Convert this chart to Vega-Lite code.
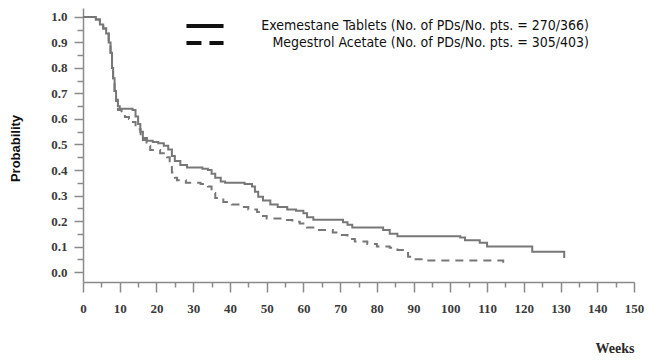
{
  "$schema": "https://vega.github.io/schema/vega-lite/v6.json",
  "width": 551,
  "height": 274,
  "autosize": "none",
  "padding": {"left": 83, "top": 8, "right": 22, "bottom": 78},
  "background": "white",
  "config": {"view": {"stroke": null}},
  "datasets": {
    "km": [
      {"group": "Exemestane Tablets (No. of PDs/No. pts. = 270/366)", "week": 0, "p": 1.0},
      {"group": "Exemestane Tablets (No. of PDs/No. pts. = 270/366)", "week": 2.5, "p": 1.0},
      {"group": "Exemestane Tablets (No. of PDs/No. pts. = 270/366)", "week": 3.5, "p": 0.99},
      {"group": "Exemestane Tablets (No. of PDs/No. pts. = 270/366)", "week": 4.6, "p": 0.97},
      {"group": "Exemestane Tablets (No. of PDs/No. pts. = 270/366)", "week": 5.5, "p": 0.955},
      {"group": "Exemestane Tablets (No. of PDs/No. pts. = 270/366)", "week": 6.3, "p": 0.935},
      {"group": "Exemestane Tablets (No. of PDs/No. pts. = 270/366)", "week": 7.0, "p": 0.9},
      {"group": "Exemestane Tablets (No. of PDs/No. pts. = 270/366)", "week": 7.5, "p": 0.86},
      {"group": "Exemestane Tablets (No. of PDs/No. pts. = 270/366)", "week": 7.9, "p": 0.8},
      {"group": "Exemestane Tablets (No. of PDs/No. pts. = 270/366)", "week": 8.2, "p": 0.76},
      {"group": "Exemestane Tablets (No. of PDs/No. pts. = 270/366)", "week": 8.6, "p": 0.71},
      {"group": "Exemestane Tablets (No. of PDs/No. pts. = 270/366)", "week": 9.0, "p": 0.675},
      {"group": "Exemestane Tablets (No. of PDs/No. pts. = 270/366)", "week": 9.5, "p": 0.65},
      {"group": "Exemestane Tablets (No. of PDs/No. pts. = 270/366)", "week": 10.0, "p": 0.64},
      {"group": "Exemestane Tablets (No. of PDs/No. pts. = 270/366)", "week": 13.5, "p": 0.635},
      {"group": "Exemestane Tablets (No. of PDs/No. pts. = 270/366)", "week": 14.3, "p": 0.61},
      {"group": "Exemestane Tablets (No. of PDs/No. pts. = 270/366)", "week": 15.0, "p": 0.58},
      {"group": "Exemestane Tablets (No. of PDs/No. pts. = 270/366)", "week": 15.6, "p": 0.55},
      {"group": "Exemestane Tablets (No. of PDs/No. pts. = 270/366)", "week": 16.3, "p": 0.525},
      {"group": "Exemestane Tablets (No. of PDs/No. pts. = 270/366)", "week": 17.4, "p": 0.515},
      {"group": "Exemestane Tablets (No. of PDs/No. pts. = 270/366)", "week": 19.0, "p": 0.51},
      {"group": "Exemestane Tablets (No. of PDs/No. pts. = 270/366)", "week": 20.5, "p": 0.505},
      {"group": "Exemestane Tablets (No. of PDs/No. pts. = 270/366)", "week": 22.0, "p": 0.495},
      {"group": "Exemestane Tablets (No. of PDs/No. pts. = 270/366)", "week": 23.2, "p": 0.48},
      {"group": "Exemestane Tablets (No. of PDs/No. pts. = 270/366)", "week": 24.2, "p": 0.455},
      {"group": "Exemestane Tablets (No. of PDs/No. pts. = 270/366)", "week": 25.0, "p": 0.435},
      {"group": "Exemestane Tablets (No. of PDs/No. pts. = 270/366)", "week": 26.5, "p": 0.42},
      {"group": "Exemestane Tablets (No. of PDs/No. pts. = 270/366)", "week": 28.3, "p": 0.41},
      {"group": "Exemestane Tablets (No. of PDs/No. pts. = 270/366)", "week": 32.5, "p": 0.405},
      {"group": "Exemestane Tablets (No. of PDs/No. pts. = 270/366)", "week": 34.0, "p": 0.4},
      {"group": "Exemestane Tablets (No. of PDs/No. pts. = 270/366)", "week": 35.0, "p": 0.385},
      {"group": "Exemestane Tablets (No. of PDs/No. pts. = 270/366)", "week": 36.0, "p": 0.37},
      {"group": "Exemestane Tablets (No. of PDs/No. pts. = 270/366)", "week": 37.5, "p": 0.355},
      {"group": "Exemestane Tablets (No. of PDs/No. pts. = 270/366)", "week": 38.7, "p": 0.35},
      {"group": "Exemestane Tablets (No. of PDs/No. pts. = 270/366)", "week": 44.0, "p": 0.345},
      {"group": "Exemestane Tablets (No. of PDs/No. pts. = 270/366)", "week": 46.0, "p": 0.335},
      {"group": "Exemestane Tablets (No. of PDs/No. pts. = 270/366)", "week": 46.8, "p": 0.315},
      {"group": "Exemestane Tablets (No. of PDs/No. pts. = 270/366)", "week": 47.7, "p": 0.295},
      {"group": "Exemestane Tablets (No. of PDs/No. pts. = 270/366)", "week": 49.0, "p": 0.28},
      {"group": "Exemestane Tablets (No. of PDs/No. pts. = 270/366)", "week": 51.0, "p": 0.265},
      {"group": "Exemestane Tablets (No. of PDs/No. pts. = 270/366)", "week": 53.0, "p": 0.255},
      {"group": "Exemestane Tablets (No. of PDs/No. pts. = 270/366)", "week": 55.6, "p": 0.245},
      {"group": "Exemestane Tablets (No. of PDs/No. pts. = 270/366)", "week": 58.0, "p": 0.24},
      {"group": "Exemestane Tablets (No. of PDs/No. pts. = 270/366)", "week": 60.0, "p": 0.23},
      {"group": "Exemestane Tablets (No. of PDs/No. pts. = 270/366)", "week": 61.0, "p": 0.215},
      {"group": "Exemestane Tablets (No. of PDs/No. pts. = 270/366)", "week": 62.7, "p": 0.205},
      {"group": "Exemestane Tablets (No. of PDs/No. pts. = 270/366)", "week": 70.8, "p": 0.195},
      {"group": "Exemestane Tablets (No. of PDs/No. pts. = 270/366)", "week": 72.0, "p": 0.185},
      {"group": "Exemestane Tablets (No. of PDs/No. pts. = 270/366)", "week": 73.3, "p": 0.175},
      {"group": "Exemestane Tablets (No. of PDs/No. pts. = 270/366)", "week": 81.7, "p": 0.165},
      {"group": "Exemestane Tablets (No. of PDs/No. pts. = 270/366)", "week": 83.5, "p": 0.15},
      {"group": "Exemestane Tablets (No. of PDs/No. pts. = 270/366)", "week": 85.6, "p": 0.14},
      {"group": "Exemestane Tablets (No. of PDs/No. pts. = 270/366)", "week": 102.7, "p": 0.135},
      {"group": "Exemestane Tablets (No. of PDs/No. pts. = 270/366)", "week": 104.0, "p": 0.125},
      {"group": "Exemestane Tablets (No. of PDs/No. pts. = 270/366)", "week": 108.0, "p": 0.115},
      {"group": "Exemestane Tablets (No. of PDs/No. pts. = 270/366)", "week": 110.0, "p": 0.1},
      {"group": "Exemestane Tablets (No. of PDs/No. pts. = 270/366)", "week": 122.3, "p": 0.08},
      {"group": "Exemestane Tablets (No. of PDs/No. pts. = 270/366)", "week": 131.0, "p": 0.08},
      {"group": "Exemestane Tablets (No. of PDs/No. pts. = 270/366)", "week": 131.0, "p": 0.055},
      {"group": "Megestrol Acetate (No. of PDs/No. pts. = 305/403)", "week": 0, "p": 1.0},
      {"group": "Megestrol Acetate (No. of PDs/No. pts. = 305/403)", "week": 2.5, "p": 1.0},
      {"group": "Megestrol Acetate (No. of PDs/No. pts. = 305/403)", "week": 3.5, "p": 0.99},
      {"group": "Megestrol Acetate (No. of PDs/No. pts. = 305/403)", "week": 4.6, "p": 0.975},
      {"group": "Megestrol Acetate (No. of PDs/No. pts. = 305/403)", "week": 5.5, "p": 0.955},
      {"group": "Megestrol Acetate (No. of PDs/No. pts. = 305/403)", "week": 6.3, "p": 0.935},
      {"group": "Megestrol Acetate (No. of PDs/No. pts. = 305/403)", "week": 7.0, "p": 0.9},
      {"group": "Megestrol Acetate (No. of PDs/No. pts. = 305/403)", "week": 7.5, "p": 0.86},
      {"group": "Megestrol Acetate (No. of PDs/No. pts. = 305/403)", "week": 7.9, "p": 0.8},
      {"group": "Megestrol Acetate (No. of PDs/No. pts. = 305/403)", "week": 8.2, "p": 0.76},
      {"group": "Megestrol Acetate (No. of PDs/No. pts. = 305/403)", "week": 8.6, "p": 0.71},
      {"group": "Megestrol Acetate (No. of PDs/No. pts. = 305/403)", "week": 9.0, "p": 0.67},
      {"group": "Megestrol Acetate (No. of PDs/No. pts. = 305/403)", "week": 9.5, "p": 0.635},
      {"group": "Megestrol Acetate (No. of PDs/No. pts. = 305/403)", "week": 10.5, "p": 0.62},
      {"group": "Megestrol Acetate (No. of PDs/No. pts. = 305/403)", "week": 11.4, "p": 0.608},
      {"group": "Megestrol Acetate (No. of PDs/No. pts. = 305/403)", "week": 12.5, "p": 0.6},
      {"group": "Megestrol Acetate (No. of PDs/No. pts. = 305/403)", "week": 13.6, "p": 0.588},
      {"group": "Megestrol Acetate (No. of PDs/No. pts. = 305/403)", "week": 14.3, "p": 0.575},
      {"group": "Megestrol Acetate (No. of PDs/No. pts. = 305/403)", "week": 15.0, "p": 0.56},
      {"group": "Megestrol Acetate (No. of PDs/No. pts. = 305/403)", "week": 15.7, "p": 0.54},
      {"group": "Megestrol Acetate (No. of PDs/No. pts. = 305/403)", "week": 16.3, "p": 0.518},
      {"group": "Megestrol Acetate (No. of PDs/No. pts. = 305/403)", "week": 17.3, "p": 0.495},
      {"group": "Megestrol Acetate (No. of PDs/No. pts. = 305/403)", "week": 18.3, "p": 0.478},
      {"group": "Megestrol Acetate (No. of PDs/No. pts. = 305/403)", "week": 21.0, "p": 0.466},
      {"group": "Megestrol Acetate (No. of PDs/No. pts. = 305/403)", "week": 22.9, "p": 0.45},
      {"group": "Megestrol Acetate (No. of PDs/No. pts. = 305/403)", "week": 23.6, "p": 0.42},
      {"group": "Megestrol Acetate (No. of PDs/No. pts. = 305/403)", "week": 24.2, "p": 0.39},
      {"group": "Megestrol Acetate (No. of PDs/No. pts. = 305/403)", "week": 25.0, "p": 0.37},
      {"group": "Megestrol Acetate (No. of PDs/No. pts. = 305/403)", "week": 25.6, "p": 0.36},
      {"group": "Megestrol Acetate (No. of PDs/No. pts. = 305/403)", "week": 28.0, "p": 0.35},
      {"group": "Megestrol Acetate (No. of PDs/No. pts. = 305/403)", "week": 32.0, "p": 0.345},
      {"group": "Megestrol Acetate (No. of PDs/No. pts. = 305/403)", "week": 34.0, "p": 0.335},
      {"group": "Megestrol Acetate (No. of PDs/No. pts. = 305/403)", "week": 35.0, "p": 0.31},
      {"group": "Megestrol Acetate (No. of PDs/No. pts. = 305/403)", "week": 36.0, "p": 0.29},
      {"group": "Megestrol Acetate (No. of PDs/No. pts. = 305/403)", "week": 38.2, "p": 0.275},
      {"group": "Megestrol Acetate (No. of PDs/No. pts. = 305/403)", "week": 40.5, "p": 0.265},
      {"group": "Megestrol Acetate (No. of PDs/No. pts. = 305/403)", "week": 42.8, "p": 0.255},
      {"group": "Megestrol Acetate (No. of PDs/No. pts. = 305/403)", "week": 45.0, "p": 0.245},
      {"group": "Megestrol Acetate (No. of PDs/No. pts. = 305/403)", "week": 47.4, "p": 0.235},
      {"group": "Megestrol Acetate (No. of PDs/No. pts. = 305/403)", "week": 48.7, "p": 0.22},
      {"group": "Megestrol Acetate (No. of PDs/No. pts. = 305/403)", "week": 50.0, "p": 0.21},
      {"group": "Megestrol Acetate (No. of PDs/No. pts. = 305/403)", "week": 54.5, "p": 0.204},
      {"group": "Megestrol Acetate (No. of PDs/No. pts. = 305/403)", "week": 57.0, "p": 0.197},
      {"group": "Megestrol Acetate (No. of PDs/No. pts. = 305/403)", "week": 59.0, "p": 0.19},
      {"group": "Megestrol Acetate (No. of PDs/No. pts. = 305/403)", "week": 61.0, "p": 0.175},
      {"group": "Megestrol Acetate (No. of PDs/No. pts. = 305/403)", "week": 62.7, "p": 0.165},
      {"group": "Megestrol Acetate (No. of PDs/No. pts. = 305/403)", "week": 68.0, "p": 0.155},
      {"group": "Megestrol Acetate (No. of PDs/No. pts. = 305/403)", "week": 70.0, "p": 0.145},
      {"group": "Megestrol Acetate (No. of PDs/No. pts. = 305/403)", "week": 72.0, "p": 0.13},
      {"group": "Megestrol Acetate (No. of PDs/No. pts. = 305/403)", "week": 74.0, "p": 0.12},
      {"group": "Megestrol Acetate (No. of PDs/No. pts. = 305/403)", "week": 77.4, "p": 0.11},
      {"group": "Megestrol Acetate (No. of PDs/No. pts. = 305/403)", "week": 80.0, "p": 0.1},
      {"group": "Megestrol Acetate (No. of PDs/No. pts. = 305/403)", "week": 83.5, "p": 0.095},
      {"group": "Megestrol Acetate (No. of PDs/No. pts. = 305/403)", "week": 85.6, "p": 0.086},
      {"group": "Megestrol Acetate (No. of PDs/No. pts. = 305/403)", "week": 87.5, "p": 0.075},
      {"group": "Megestrol Acetate (No. of PDs/No. pts. = 305/403)", "week": 88.5, "p": 0.06},
      {"group": "Megestrol Acetate (No. of PDs/No. pts. = 305/403)", "week": 90.0, "p": 0.05},
      {"group": "Megestrol Acetate (No. of PDs/No. pts. = 305/403)", "week": 93.0, "p": 0.045},
      {"group": "Megestrol Acetate (No. of PDs/No. pts. = 305/403)", "week": 114.4, "p": 0.045},
      {"group": "Megestrol Acetate (No. of PDs/No. pts. = 305/403)", "week": 114.4, "p": 0.035}
    ]
  },
  "data": {"name": "km"},
  "encoding": {
    "x": {
      "field": "week",
      "type": "quantitative",
      "scale": {"domain": [0, 150], "nice": false, "zero": false},
      "axis": {
        "values": [0,5,10,15,20,25,30,35,40,45,50,55,60,65,70,75,80,85,90,95,100,105,110,115,120,125,130,135,140,145,150],
        "labelExpr": "datum.value % 10 === 0 ? datum.label : ''",
        "tickSize": {"condition": {"test": "datum.value % 10 === 0", "value": 10}, "value": 5},
        "grid": false,
        "domainColor": "#8a8a8a",
        "domainWidth": 1.5,
        "tickColor": "#8a8a8a",
        "tickWidth": 1.5,
        "labelFont": "Liberation Serif",
        "labelFontWeight": "bold",
        "labelFontSize": 13,
        "labelColor": "#3a3a3a",
        "labelPadding": 10,
        "labelFlush": false,
        "labelOverlap": false,
        "title": "Weeks",
        "titleFont": "Liberation Serif",
        "titleFontWeight": "bold",
        "titleFontSize": 14,
        "titleColor": "#2a2a2a",
        "titleAnchor": "end",
        "titleAlign": "right",
        "titleBaseline": "middle",
        "titleX": 551,
        "titleY": 66
      }
    },
    "y": {
      "field": "p",
      "type": "quantitative",
      "scale": {"domain": [-0.039, 1.035], "nice": false, "zero": false},
      "axis": {
        "values": [0,0.05,0.1,0.15,0.2,0.25,0.3,0.35,0.4,0.45,0.5,0.55,0.6,0.65,0.7,0.75,0.8,0.85,0.9,0.95,1.0],
        "format": ".1f",
        "labelExpr": "round(datum.value * 100) % 10 === 0 ? datum.label : ''",
        "tickSize": {"condition": {"test": "round(datum.value * 100) % 10 === 0", "value": 9}, "value": 6},
        "grid": false,
        "domainColor": "#8a8a8a",
        "domainWidth": 1.5,
        "tickColor": "#8a8a8a",
        "tickWidth": 1.5,
        "labelFont": "Liberation Serif",
        "labelFontWeight": "bold",
        "labelFontSize": 13,
        "labelColor": "#3a3a3a",
        "labelPadding": 7,
        "labelFlush": false,
        "labelOverlap": false,
        "title": "Probability",
        "titleFont": "Liberation Sans",
        "titleFontWeight": "bold",
        "titleFontSize": 13,
        "titleColor": "#111111",
        "titleAngle": -90,
        "titleAlign": "center",
        "titleBaseline": "middle",
        "titleX": -68,
        "titleY": 140
      }
    }
  },
  "layer": [
    {
      "mark": {"type": "line", "interpolate": "step-after", "strokeWidth": 2, "color": "#777777"},
      "encoding": {
        "strokeDash": {
          "field": "group",
          "type": "nominal",
          "scale": {
            "domain": ["Exemestane Tablets (No. of PDs/No. pts. = 270/366)", "Megestrol Acetate (No. of PDs/No. pts. = 305/403)"],
            "range": [[1, 0], [8, 6]]
          },
          "legend": null
        }
      }
    },
    {
      "transform": [{"filter": "false"}],
      "mark": {"type": "line", "strokeWidth": 4, "color": "#111111"},
      "encoding": {
        "strokeDash": {
          "field": "group",
          "type": "nominal",
          "scale": {
            "domain": ["Exemestane Tablets (No. of PDs/No. pts. = 270/366)", "Megestrol Acetate (No. of PDs/No. pts. = 305/403)"],
            "range": [[1, 0], [15, 8]]
          },
          "legend": {
            "orient": "none",
            "legendX": 113,
            "legendY": 9,
            "title": null,
            "symbolType": "M-2.65,0H2.65",
            "symbolSize": 196,
            "symbolStrokeWidth": 4,
            "symbolStrokeColor": "#111111",
            "labelFont": "DejaVu Sans Condensed, Liberation Sans",
            "labelFontSize": 14,
            "labelColor": "#111111",
            "labelAlign": "right",
            "labelLimit": 500,
            "labelOffset": 375,
            "rowPadding": 0
          }
        }
      }
    }
  ],
  "resolve": {"scale": {"strokeDash": "independent"}}
}
